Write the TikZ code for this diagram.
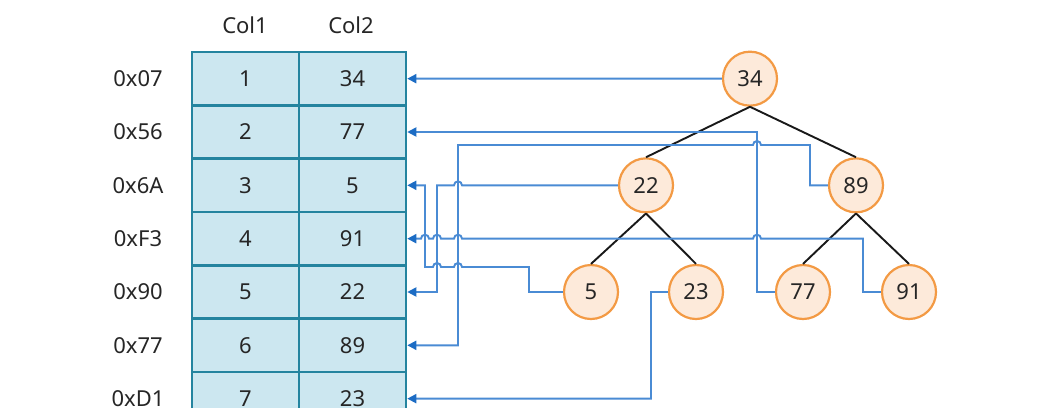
\documentclass[tikz,border=0pt]{standalone}
\usepackage{fontspec}
\setmainfont{Noto Sans}
\usetikzlibrary{arrows.meta}
\definecolor{tealline}{HTML}{24849F}
\definecolor{cellfill}{HTML}{CCE7F0}
\definecolor{connblue}{HTML}{4A8BD4}
\definecolor{arrowblue}{HTML}{1C6CC4}
\definecolor{orangeline}{HTML}{F39A44}
\definecolor{orangefill}{HTML}{FDEADA}
\definecolor{txt}{HTML}{262626}
\newcommand\hopat[2]{-- ({#1+4},#2) arc[start angle=0,end angle=180,radius=4pt]}
\begin{document}
\begin{tikzpicture}[x=1pt,y=-1pt,
  every node/.style={font=\fontsize{22}{26}\selectfont,text=txt},
  cell/.style={draw=tealline,line width=2.6pt,fill=cellfill,minimum width=107pt,minimum height=53.33pt,inner sep=0pt},
  tnode/.style={circle,draw=orangeline,fill=orangefill,line width=2.2pt,minimum size=54pt,inner sep=0pt},
  conn/.style={draw=connblue,line width=1.9pt,-{Triangle[length=9pt,width=9pt,color=arrowblue]}},
  treeedge/.style={draw=black!90,line width=1.9pt}]
\useasboundingbox (0,0) rectangle (1039,416);
\fill[white] (0,0) rectangle (1039,416);
% headers
\node (hdr1) at (245,25) {Col1};
\node (hdr2) at (351,25) {Col2};
% table
\begin{scope}
\clip (0,0) rectangle (1039,407.5);
\foreach \i/\a/\b/\ad in {1/1/34/0x07,2/2/77/0x56,3/3/5/0x6A,4/4/91/0xF3,5/5/22/0x90,6/6/89/0x77,7/7/23/0xD1}{
  \node[cell] (c1r\i) at (245.5,{52+53.33*(\i-0.5)}) {\a};
  \node[cell] (c2r\i) at (352.5,{52+53.33*(\i-0.5)}) {\b};
  \node (a\i) at (138,{52+53.33*(\i-0.5)}) {\ad};
}
\end{scope}
% tree
\node[tnode] (n34) at (750,78.67) {34};
\node[tnode] (n22) at (646,185.33) {22};
\node[tnode] (n89) at (856,185.33) {89};
\node[tnode] (n5) at (591,292) {5};
\node[tnode] (n23) at (696,292) {23};
\node[tnode] (n77) at (803,292) {77};
\node[tnode] (n91) at (909,292) {91};
\draw[treeedge] (n34.south) -- (n22.north);
\draw[treeedge] (n34.south) -- (n89.north);
\draw[treeedge] (n22.south) -- (n5.north);
\draw[treeedge] (n22.south) -- (n23.north);
\draw[treeedge] (n89.south) -- (n77.north);
\draw[treeedge] (n89.south) -- (n91.north);
% connectors
\draw[conn] (n34.west) -- (c2r1.east);
\draw[conn] (n77.west) -- (757,292) -- (757,132) -- (c2r2.east);
\draw[conn] (n89.west) -- (810,185.33) -- (810,145) \hopat{757}{145} -- (458,145) -- (458,345.33) -- (c2r6.east);
\draw[conn] (n91.west) -- (863,292) -- (863,238.67) \hopat{757}{238.67} \hopat{458}{238.67} \hopat{437}{238.67} \hopat{425}{238.67} -- (c2r4.east);
\draw[conn] (n22.west) \hopat{458}{185.33} -- (437,185.33) -- (437,292) -- (c2r5.east);
\draw[conn] (n5.west) -- (529,292) -- (529,267) \hopat{458}{267} \hopat{437}{267} -- (425,267) -- (425,185.33) -- (c2r3.east);
\draw[conn] (n23.west) -- (651,292) -- (651,398.67) -- (c2r7.east);
\end{tikzpicture}
\end{document}
